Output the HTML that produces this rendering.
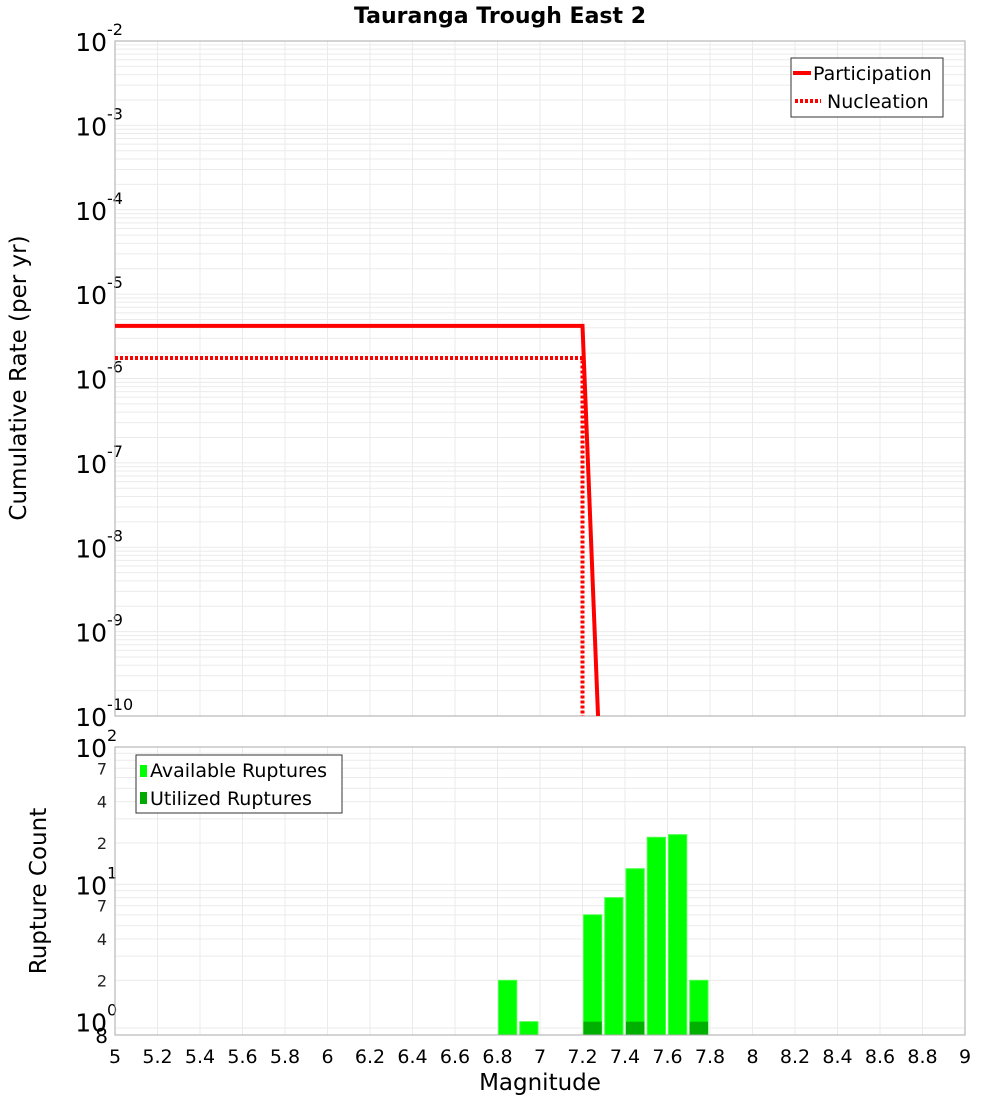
<!DOCTYPE html>
<html><head><meta charset="utf-8"><style>
body{margin:0;background:#fff;}
svg{display:block;font-family:"DejaVu Sans","Liberation Sans",sans-serif;}
</style></head><body>
<svg id="c" width="1000" height="1100" xmlns="http://www.w3.org/2000/svg">
<text x="500" y="23" text-anchor="middle" font-size="22" font-weight="bold">Tauranga Trough East 2</text>
<g id="topG"></g>
<g id="botG"></g>
<text transform="translate(26,378) rotate(-90)" text-anchor="middle" font-size="23">Cumulative Rate (per yr)</text>
<text transform="translate(46,891) rotate(-90)" text-anchor="middle" font-size="23">Rupture Count</text>
<text x="540" y="1090" text-anchor="middle" font-size="23">Magnitude</text>
<g id="legends">
<g>
<rect x="791" y="58" width="152" height="59" fill="#fff" stroke="#333"/>
<line x1="793" y1="73" x2="811" y2="73" stroke="red" stroke-width="4"/>
<text x="813" y="80" font-size="19">Participation</text>
<line x1="795" y1="101" x2="821" y2="101" stroke="red" stroke-width="4" stroke-dasharray="3,2"/>
<text x="827" y="108" font-size="19">Nucleation</text>
</g>
<g>
<rect x="136" y="755" width="206" height="58" fill="#fff" stroke="#333"/>
<rect x="140" y="765" width="7" height="12" fill="#00ff00"/>
<text x="150" y="777" font-size="19">Available Ruptures</text>
<rect x="140" y="792" width="7" height="12" fill="#00aa00"/>
<text x="150" y="805" font-size="19">Utilized Ruptures</text>
</g>
</g>
</svg>
<script>
const xTicks=[5,5.2,5.4,5.6,5.8,6,6.2,6.4,6.6,6.8,7,7.2,7.4,7.6,7.8,8,8.2,8.4,8.6,8.8,9];
const rateMags=[5,7.2,7.3];
const participation=[4.2e-6,4.2e-6,2e-12];
const nuclMags=[5,7.2,7.2];
const nucleation=[1.75e-6,1.75e-6,1e-11];
const binMags=[6.85,6.95,7.25,7.35,7.45,7.55,7.65,7.75];
const available=[2,1,6,8,13,22,23,2];
const utilized=[0,0,1,0,1,0,0,1];
const NS="http://www.w3.org/2000/svg";
const X0=115,X1=965;
const xs=m=>X0+(m-5)/(9-5)*(X1-X0);
const T0=41,T1=716;
const yT=v=>T0+(-2-Math.log10(v))/8*(T1-T0);
const B0=747,B1=1035;
const bMin=Math.log10(0.8);
const yB=v=>B0+(2-Math.log10(v))/(2-bMin)*(B1-B0);
function el(t,a,p){const e=document.createElementNS(NS,t);for(const k in a)e.setAttribute(k,a[k]);p.appendChild(e);return e;}
const topG=document.getElementById('topG'),botG=document.getElementById('botG');
for(let d=-10;d<-2;d++)for(let k=1;k<10;k++){if(k===1&&d===-10)continue;const yy=yT(k*Math.pow(10,d));el('line',{x1:X0,x2:X1,y1:yy,y2:yy,stroke:'#ebebeb'},topG);}
for(const t of xTicks){
el('line',{x1:xs(t),x2:xs(t),y1:T0,y2:T1,stroke:'#ebebeb'},topG);
el('line',{x1:xs(t),x2:xs(t),y1:B0,y2:B1,stroke:'#ebebeb'},botG);
const tx=el('text',{x:xs(t),y:1063,'text-anchor':'middle','font-size':19},botG);tx.textContent=t;


}
for(let d=-10;d<=-2;d++){
const tx=el('text',{x:107,y:yT(Math.pow(10,d))+10,'text-anchor':'end','font-size':25},topG);tx.textContent='10';


const s=el('text',{x:107,y:yT(Math.pow(10,d))-6,'font-size':16},topG);s.textContent=d;
}
el('rect',{x:X0,y:T0,width:X1-X0,height:T1-T0,fill:'none',stroke:'#aaa'},topG);
const cp=document.createElementNS(NS,'clipPath');cp.setAttribute('id','cl');topG.appendChild(cp);
el('rect',{x:X0,y:T0,width:X1-X0,height:T1-T0},cp);
const p1=el('polyline',{points:rateMags.map((m,i)=>xs(m)+','+yT(participation[i])).join(' '),fill:'none',stroke:'red','stroke-width':4,'clip-path':'url(#cl)'},topG);


const p2=el('polyline',{points:nuclMags.map((m,i)=>xs(m)+','+yT(nucleation[i])).join(' '),fill:'none',stroke:'red','stroke-width':4,'stroke-dasharray':'3,2','clip-path':'url(#cl)'},topG);


for(const v of [0.9,2,3,4,5,6,7,8,9,10,20,30,40,50,60,70,80,90])el('line',{x1:X0,x2:X1,y1:yB(v),y2:yB(v),stroke:'#ebebeb'},botG);
for(const [v,lab] of [[7,'7'],[4,'4'],[2,'2'],[70,'7'],[40,'4'],[20,'2']]){const t=el('text',{x:107,y:yB(v)+6,'text-anchor':'end','font-size':16,fill:'#222'},botG);t.textContent=lab;}
for(const d of [0,1,2]){const t=el('text',{x:107,y:yB(Math.pow(10,d))+10,'text-anchor':'end','font-size':25},botG);t.textContent='10';const s=el('text',{x:107,y:yB(Math.pow(10,d))-6,'font-size':16},botG);s.textContent=d;}
{const t=el('text',{x:108,y:1043,'text-anchor':'end','font-size':20},botG);t.textContent='8';}
binMags.forEach((m,i)=>{
const yy=yB(available[i]);
const r=el('rect',{x:xs(m-0.05)+1,y:yy,width:xs(5.1)-xs(5)-3,height:B1-yy,fill:'#00ff00',stroke:'#44ff44'},botG);


if(utilized[i]>0){
const yu=yB(utilized[i]);
const u=el('rect',{x:xs(m-0.05)+1,y:yu,width:xs(5.1)-xs(5)-3,height:B1-yu,fill:'#00b000'},botG);


}
});
el('rect',{x:X0,y:B0,width:X1-X0,height:B1-B0,fill:'none',stroke:'#aaa'},botG);
document.getElementById('c').appendChild(document.getElementById('legends'));
</script>
</body></html>
